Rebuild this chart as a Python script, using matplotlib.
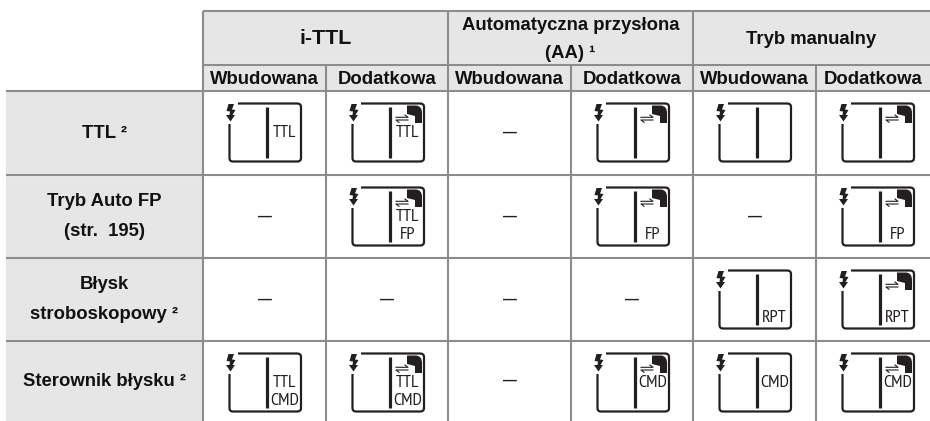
import logging
import matplotlib
matplotlib.use("Agg")
import matplotlib.pyplot as plt
import matplotlib.patches as mpatches
from matplotlib.path import Path

logging.getLogger("matplotlib.font_manager").setLevel(logging.ERROR)

# column groups and rows of the table
groups = ["i-TTL", "Automatyczna przysłona\n(AA) ¹", "Tryb manualny"]
sub_headers = ["Wbudowana", "Dodatkowa"] * 3
row_labels = ["TTL ²", "Tryb Auto FP\n(str.  195)", "Błysk\nstroboskopowy ²", "Sterownik błysku ²"]

# icon contents per cell: (has remote symbol, middle text, low text), None is a dash
row_ttl = [(0, "TTL", ""), (1, "TTL", ""), None, (1, "", ""), (0, "", ""), (1, "", "")]
row_fp = [None, (1, "TTL", "FP"), None, (1, "", "FP"), None, (1, "", "FP")]
row_rpt = [None, None, None, None, (0, "", "RPT"), (1, "", "RPT")]
row_cmd = [(0, "TTL", "CMD"), (1, "TTL", "CMD"), None, (1, "CMD", ""), (0, "CMD", ""), (1, "CMD", "")]
cells = [row_ttl, row_fp, row_rpt, row_cmd]

# layout in pixels
col_x = [203, 326, 448, 571, 693, 816, 930]
row_y = [91, 175, 258, 341, 421]
head_y = [11, 65, 91]
left_x = 6

GRID = "#8c8c8c"
FILL = "#e6e6e6"
INK = "#231f20"
TEXT = "#111111"
FONT = ["Liberation Sans", "DejaVu Sans"]
NARROW = ["PT Sans Narrow", "Liberation Sans", "DejaVu Sans"]

fig = plt.figure(figsize=(9.3, 4.21), dpi=100)
ax = fig.add_axes([0, 0, 1, 1])
ax.set_xlim(0, 930)
ax.set_ylim(421, 0)
ax.axis("off")


def draw_icon(x0, y0, cell):
    remote, mid, low = cell
    # frame with a gap for the flash symbol
    frame = mpatches.PathPatch(
        Path([(x0 + 35, y0 + 12.5), (x0 + 94, y0 + 12.5), (x0 + 98, y0 + 12.5), (x0 + 98, y0 + 16),
              (x0 + 98, y0 + 67), (x0 + 98, y0 + 70.5), (x0 + 94, y0 + 70.5),
              (x0 + 30, y0 + 70.5), (x0 + 26.5, y0 + 70.5), (x0 + 26.5, y0 + 67), (x0 + 26.5, y0 + 33)],
             [1, 2, 3, 3, 2, 3, 3, 2, 3, 3, 2]),
        fill=False, ec=INK, lw=1.6, capstyle="butt", zorder=3)
    ax.add_patch(frame)
    ax.plot([x0 + 64, x0 + 64], [y0 + 16, y0 + 67], color=INK, lw=2.3, solid_capstyle="butt", zorder=3)
    # flash bolt
    bolt = [(x0 + 25.5, y0 + 13), (x0 + 31, y0 + 13), (x0 + 29, y0 + 18.5), (x0 + 32.5, y0 + 19),
            (x0 + 29.5, y0 + 24), (x0 + 32, y0 + 24), (x0 + 27.5, y0 + 30.5), (x0 + 23, y0 + 24),
            (x0 + 26.5, y0 + 24), (x0 + 27, y0 + 20.5), (x0 + 23.5, y0 + 20)]
    ax.add_patch(mpatches.Polygon(bolt, closed=True, fc=INK, ec="none", zorder=3))
    if remote:
        head = Path([(x0 + 81, y0 + 14.5), (x0 + 90, y0 + 14.5), (x0 + 96, y0 + 15), (x0 + 96, y0 + 22),
                     (x0 + 96, y0 + 32), (x0 + 89, y0 + 32), (x0 + 89, y0 + 25), (x0 + 81, y0 + 23),
                     (x0 + 81, y0 + 14.5)],
                    [1, 2, 3, 3, 2, 2, 2, 2, 79])
        ax.add_patch(mpatches.PathPatch(head, fc=INK, ec="none", zorder=3))
        # the two half arrows
        ax.plot([x0 + 70, x0 + 82, x0 + 79], [y0 + 26.3, y0 + 26.3, y0 + 24], color=INK, lw=0.8, zorder=3)
        ax.plot([x0 + 82, x0 + 70, x0 + 73], [y0 + 29, y0 + 29, y0 + 31.3], color=INK, lw=0.8, zorder=3)
    if mid:
        ax.text(x0 + 81.5, y0 + 42, mid, ha="center", va="center", fontsize=13, family=NARROW, color=INK, zorder=4)
    if low:
        ax.text(x0 + 81.5, y0 + 60, low, ha="center", va="center", fontsize=13, family=NARROW, color=INK, zorder=4)


# grey header and row label areas
ax.add_patch(mpatches.Rectangle((col_x[0], head_y[0]), col_x[-1] - col_x[0], head_y[2] - head_y[0], fc=FILL, ec="none"))
ax.add_patch(mpatches.Rectangle((left_x, row_y[0]), col_x[0] - left_x, row_y[-1] - row_y[0], fc=FILL, ec="none"))

# grid lines
line = dict(color=GRID, lw=1.5, solid_capstyle="butt", zorder=2)
ax.plot([col_x[0], col_x[-1]], [head_y[0], head_y[0]], **line)
ax.plot([col_x[0], col_x[-1]], [head_y[1], head_y[1]], **line)
for y in row_y[:-1]:
    ax.plot([left_x, col_x[-1]], [y, y], **line)
for i, x in enumerate(col_x[:-1]):
    top = head_y[0] if i % 2 == 0 else head_y[1]
    ax.plot([x, x], [top, row_y[-1]], **line)

bold = dict(ha="center", va="center", fontweight="bold", family=FONT, color=TEXT)

# header text
head_sizes = [15.4, 13.3, 13.3]
for i, name in enumerate(groups):
    cx = (col_x[i * 2] + col_x[i * 2 + 2]) / 2
    parts = name.split("\n")
    if len(parts) == 1:
        ax.text(cx, 38.5 + i * 0.5, name, fontsize=head_sizes[i], **bold)
    else:
        ax.text(cx, 25, parts[0], fontsize=head_sizes[i], **bold)
        ax.text(cx, 54, parts[1], fontsize=head_sizes[i], **bold)
for i, name in enumerate(sub_headers):
    ax.text((col_x[i] + col_x[i + 1]) / 2, 79, name, fontsize=13.3, **bold)

# rows
for r, name in enumerate(row_labels):
    cy = (row_y[r] + row_y[r + 1]) / 2
    parts = name.split("\n")
    if len(parts) == 1:
        ax.text(104, cy, name, fontsize=13.3, **bold)
    else:
        ax.text(104, cy - 15, parts[0], fontsize=13.3, **bold)
        ax.text(104, cy + 15, parts[1], fontsize=13.3, **bold)
    for c, cell in enumerate(cells[r]):
        if cell is None:
            ax.text((col_x[c] + col_x[c + 1]) / 2, cy, "—", ha="center", va="center", fontsize=10, fontweight="bold", family=FONT, color=INK)
        else:
            draw_icon(col_x[c], row_y[r], cell)

fig.savefig("out.png", dpi=100)
